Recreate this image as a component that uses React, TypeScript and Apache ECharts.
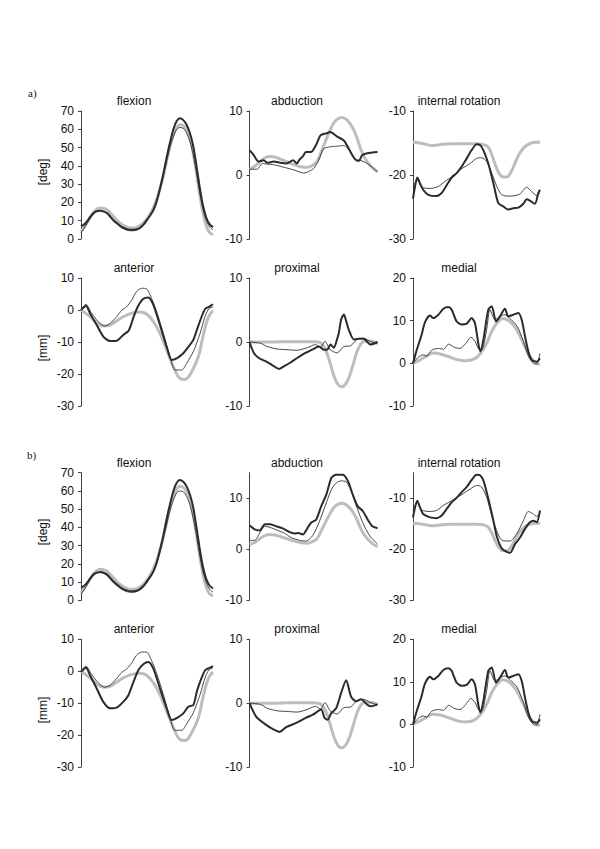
import React, { useEffect, useRef } from 'react';
import * as echarts from 'echarts';

// x = percent of gait cycle, y = value
// ---- normal (light grey) reference curves, shared by a) and b)
const normalFlexion = [[0,4],[2.5,6.5],[5,9.5],[7.5,12.5],[10,15],[12.5,16.5],[15,17],[17.5,16.7],[20,15.7],[22.5,14],[25,12],[27.5,10],[30,8.5],[32.5,7.3],[35,6.5],[37.5,6],[40,6],[42.5,6.5],[45,7.5],[47.5,9],[50,11],[52.5,14],[55,17.5],[57.5,22],[60,28],[62.5,35],[65,43],[67.5,51],[70,57],[72.5,61],[75,62.5],[77.5,62],[80,59.5],[82.5,55],[85,47],[87.5,36],[90,24],[92.5,14],[95,7],[97.5,3.5],[100,2.5]];
const normalAbduction = [[0,0.9],[5,1.5],[10,2.4],[15,2.9],[20,2.8],[25,2.4],[30,2.0],[35,1.6],[40,1.3],[45,1.2],[50,1.6],[53,2.2],[56,3.6],[60,5.6],[63,7.0],[66,8.2],[69,8.8],[72,9.0],[75,8.8],[78,8.2],[81,7.2],[84,5.8],[87,4.0],[90,2.7],[93,1.8],[96,1.1],[100,0.5]];
const normalRotation = [[0,-14.9],[5,-15],[10,-15.2],[15,-15.4],[20,-15.3],[30,-15.1],[40,-15.1],[50,-15.1],[55,-15.2],[59,-15.6],[62,-16.8],[65,-18.5],[68,-19.8],[71,-20.3],[74,-20.3],[77,-19.6],[80,-18.3],[84,-16.6],[88,-15.6],[92,-15.1],[96,-14.9],[100,-14.9]];
const normalAnterior = [[0,0],[1.8,-0.5],[6.8,-2.1],[11.9,-4],[16.9,-5],[22,-4.7],[27,-3.4],[32,-2.1],[38.4,-1],[44.7,-0.6],[49.7,-1.25],[54.8,-3.6],[59.8,-7.3],[64.9,-12.5],[70,-17.7],[75,-21.4],[78.8,-21.7],[83.8,-19.3],[88.9,-14.6],[92,-9],[95,-4],[97.5,-1.5],[100,-0.3]];
const normalProximal = [[0,0],[10,0],[20,0],[30,0.05],[40,0.05],[50,0.05],[54,0],[57,-0.4],[60,-1.5],[63,-3.3],[66,-5.3],[69,-6.6],[72,-7.0],[75,-6.6],[78,-5.4],[81,-3.5],[84,-1.5],[87,-0.3],[90,0.1],[95,0.1],[100,-0.2]];
const normalMedial = [[0,0],[5.5,0.8],[10.8,1.7],[16,2.4],[21.3,2.2],[27.8,1.6],[34.4,0.9],[41,0.6],[47.5,0.9],[52.8,2.2],[58,4.7],[62,7.5],[66,9.4],[71,10.5],[76.4,9.8],[81.6,7.9],[86.9,4.7],[92,1.6],[97.4,0],[100,-0.2]];

// ---- a) thick (dark) and thin curves
const flexionAThick = [[0,7],[2.5,8],[5,10],[7.5,12.5],[10,14.5],[12.5,15.3],[15,15.5],[17.5,15],[20,14],[22.5,12],[25,10],[27.5,8.5],[30,7],[32.5,6],[35,5.3],[37.5,5],[40,5],[42.5,5.3],[45,6.3],[47.5,8],[50,10.5],[52.5,13],[55,16],[57.5,21],[60,28],[62.5,36],[65,45],[67.5,53],[70,60],[72.5,64.5],[75,66],[77.5,65],[80,62.5],[82.5,58],[85,51],[87.5,40],[90,28],[92.5,18],[95,11.5],[97.5,8],[100,6.5]];
const flexionAThin = [[0,3.5],[2.5,6],[5,9],[7.5,12],[10,14],[12.5,15.3],[15,15.5],[17.5,15],[20,13.5],[22.5,11.5],[25,9.5],[27.5,8],[30,6.5],[32.5,5.5],[35,4.8],[37.5,4.5],[40,4.5],[42.5,5],[45,6],[47.5,7.5],[50,10],[52.5,13],[55,16.5],[57.5,21.5],[60,28],[62.5,35],[65,43],[67.5,50.5],[70,56],[72.5,60],[75,61],[77.5,60.5],[80,58],[82.5,53.5],[85,46],[87.5,36],[90,25],[92.5,16],[95,10],[97.5,6.5],[100,5]];
const abductionAThick = [[0,3.9],[3,3.2],[7,2.1],[11,2.3],[14,1.9],[19,2.1],[24,1.9],[29,1.8],[34,2.3],[37,1.8],[39,2.4],[42,3.0],[44,3.6],[48,3.6],[52,4.7],[55.5,6.2],[60,6.5],[63,6.7],[68.5,6.0],[73.7,5.4],[77.6,4.1],[80,3.2],[82.8,2.4],[85.4,2.2],[88,3.1],[92,3.4],[100,3.6]];
const abductionAThin = [[0,0.9],[6,0.9],[10,1.8],[13.8,1.7],[19,1.6],[27,1.2],[34.6,0.8],[42.4,0.3],[50,1.0],[54,2.3],[58,4.1],[63,4.4],[68.5,4.5],[73.7,4.6],[79,3.6],[82.8,2.4],[86.7,2.3],[92,1.8],[96,1.2],[100,0.5]];
const rotationAThick = [[0,-23.7],[1.6,-21.8],[3.4,-20.4],[5.5,-21.3],[8,-22.3],[12,-23.1],[18.6,-23.3],[22.6,-22.8],[26.5,-21.6],[30.4,-20.4],[34.4,-19.7],[38.3,-18.7],[42.3,-17.4],[46.2,-16.1],[50.1,-15.2],[52.8,-15.3],[55.4,-16.1],[59.3,-18.2],[63.3,-21.3],[67.2,-24.4],[71.1,-24.9],[75,-25.4],[79,-25.2],[83,-25.1],[86.9,-24.5],[89.5,-23.8],[92,-24],[96,-24.5],[98.7,-22.8],[100,-22.3]];
const rotationAThin = [[0,-21.8],[3.4,-20.8],[6.8,-21.9],[13.4,-22.1],[20,-21.8],[25.2,-21],[30.4,-20.3],[37,-19.2],[45,-18.2],[50,-17.4],[54,-17.3],[58,-17.9],[62,-19.7],[66,-21.8],[70,-23.1],[76.4,-23.3],[84,-23],[89.5,-21.9],[93.4,-22.6],[97.4,-23.2],[100,-22.8]];
const anteriorAThick = [[0,0],[3.8,1.25],[6.8,-1],[11.9,-4.7],[16.9,-8.3],[22,-9.7],[27,-9.6],[32,-7.8],[36,-6.5],[38,-4.5],[40,-2],[43,1],[47,3.4],[51,3.9],[54.8,1.6],[59.8,-4.7],[64.9,-11.5],[68.7,-15.6],[72.5,-15.1],[77.5,-13.5],[81.3,-11.5],[85,-9.4],[88,-6],[91,-2.5],[94,0.3],[97,1],[100,1.8]];
const anteriorAThin = [[0,0.2],[3.8,1.8],[8,-1],[13,-3.6],[18,-5],[22,-4.2],[27,-2.1],[31,0],[34.6,1],[38.4,3.1],[42,5.7],[46,6.8],[49.7,6.6],[53.5,3.6],[57.3,-0.5],[62.4,-7.3],[67.4,-14.6],[71.2,-18.75],[76.3,-18.75],[80,-16.7],[85.1,-13],[90.2,-7.3],[94,-2],[97,0.5],[100,1]];
const proximalAThick = [[0,0],[3.4,-1.7],[7.3,-2.5],[12.5,-3],[17.7,-3.6],[22.9,-4.2],[26.8,-3.8],[32,-3.2],[37.2,-2.5],[43.75,-1.7],[49,-1.2],[54.2,-0.7],[58,-1.2],[60.7,-1.2],[63.3,-0.4],[65.9,-0.9],[68.5,0.5],[69.8,1.4],[71.6,3.5],[73.7,4.3],[75.5,3.3],[77.6,1.9],[81.5,0.4],[85.4,0.5],[89.3,0.5],[94.5,-0.4],[100,0]];
const proximalAThin = [[0,0],[8.6,-0.2],[13.8,-0.7],[21.6,-1.1],[29.4,-1.2],[37.2,-1.3],[45,-0.9],[51.5,-0.4],[55.5,-0.8],[59,0.1],[63,-1.2],[68.5,-1.7],[73.7,-0.7],[79,-0.6],[84,0.4],[89,0.6],[94.5,0.1],[100,-0.3]];
const medialAThick = [[0,0],[2.9,3.1],[6.8,6.7],[9.4,9.6],[13.4,11.2],[16,10.6],[20,11.4],[23.9,12.8],[27.8,13.2],[30.4,12.6],[34.4,9.8],[38.3,9.1],[42.3,9.3],[46.2,10.6],[48.8,9.4],[51.4,4.7],[53,2.8],[55.4,5.5],[59.3,12.6],[62,13.4],[65.4,9.8],[68.5,11],[72.4,12.8],[75,11],[79,11.4],[83,11.8],[85.6,10.2],[88.2,6.3],[90.8,2.8],[93.4,0.8],[97.4,0.4],[100,1.2]];
const medialAThin = [[0,0],[4,1.4],[8,2],[10.8,1.7],[14.7,3.1],[20,3.5],[24,3.3],[28,4.5],[33,3.7],[37,3.5],[41,4.5],[45.7,6.1],[49,5.1],[51.4,3.5],[54,3.1],[58,7.9],[60.6,12.6],[64.6,10.2],[68.5,11],[72.4,11.4],[76,10.6],[82,8.7],[87,5.1],[91,1.6],[94.8,0],[97.4,-0.2],[100,2.4]];

// ---- b) thick (dark) and thin curves
const flexionBThick = [[0,7],[2.5,8],[5,10],[7.5,12.5],[10,14.5],[12.5,15.3],[15,15.5],[17.5,15],[20,14],[22.5,12],[25,10],[27.5,8.5],[30,7],[32.5,6],[35,5.3],[37.5,5],[40,5],[42.5,5.3],[45,6.3],[47.5,8],[50,10.5],[52.5,13],[55,16],[57.5,21],[60,28],[62.5,36],[65,45],[67.5,53],[70,60],[72.5,64.5],[75,66],[77.5,65],[80,62.5],[82.5,58],[85,51],[87.5,40],[90,28],[92.5,18],[95,11.5],[97.5,8],[100,6.5]];
const flexionBThin = [[0,3.5],[2.5,6],[5,9],[7.5,12],[10,14],[12.5,15],[15,15.2],[17.5,14.7],[20,13.3],[22.5,11.3],[25,9.3],[27.5,7.8],[30,6.4],[32.5,5.4],[35,4.7],[37.5,4.4],[40,4.4],[42.5,4.9],[45,5.9],[47.5,7.4],[50,9.8],[52.5,12.7],[55,16.2],[57.5,21],[60,27.5],[62.5,34.5],[65,42],[67.5,49.5],[70,55],[72.5,59],[75,60],[77.5,59.5],[80,57],[82.5,52.5],[85,45],[87.5,35.5],[90,24.5],[92.5,15.5],[95,9.5],[97.5,6],[100,4.5]];
const abductionBThick = [[0,4.7],[4,3.9],[8,3.7],[12,4.9],[15.6,4.9],[21,4.5],[26,4.1],[31,3.4],[35,3.1],[38,3.2],[41.7,2.9],[44,3.6],[48,5.2],[52,5.8],[56,8.4],[60,10.7],[64,14],[67.7,14.6],[73,14.6],[77,13.3],[80.7,10.7],[84.6,8.4],[88.5,7.5],[92.4,5.8],[96,4.5],[100,4.1]];
const abductionBThin = [[0,1.75],[4,1.75],[8,3.2],[12,4.5],[17,4.2],[22,3.7],[27,3.2],[32.5,2.3],[39,1.75],[44,1.6],[49.5,2.7],[54.7,5.5],[60,9.1],[64,11.7],[67.7,13],[71.6,13.4],[75.5,13.2],[79,11.7],[83,8.8],[88.5,5.2],[94,2.6],[100,1]];
const rotationBThick = [[0,-13.8],[1.6,-11.8],[3.4,-10.5],[5.5,-11.8],[8,-13.1],[13.4,-13.75],[18.6,-13.9],[22.6,-13.4],[26.5,-12.1],[30.4,-10.8],[34.4,-9.9],[38.3,-8.8],[42.3,-7.8],[46.2,-6.4],[50.1,-5.4],[52.8,-5.5],[55.4,-6.5],[59.3,-10.1],[63.3,-14.4],[65.9,-17.4],[69.8,-19.8],[73.8,-20.5],[76.4,-20.7],[80.3,-19],[84.3,-17.7],[88.2,-16],[92.1,-14.7],[94.8,-14.4],[97.4,-14.7],[100,-12.4]];
const rotationBThin = [[0,-12.4],[3.4,-10.8],[6.8,-12.3],[13.4,-12.6],[18.6,-12.4],[23.9,-11.4],[30.4,-10.5],[37,-9.5],[45,-8.2],[50.1,-7.5],[54,-7.8],[58,-9.8],[62,-13.4],[65.9,-16.4],[69.8,-18.2],[76.4,-18.4],[81.6,-17],[86.9,-14.4],[90.8,-12.6],[94.8,-13.1],[97.4,-13.6],[100,-12.8]];
const anteriorBThick = [[0,-0.2],[3.8,1.1],[6.8,-1.2],[11.9,-5.4],[16.9,-9.6],[22,-11.6],[27,-11.4],[32,-9.6],[35.9,-7.5],[39.6,-3.5],[43.4,0.3],[47.2,2.2],[51,2.9],[54.8,0.8],[59.8,-5.4],[64.9,-11.6],[68.7,-15.3],[72.5,-14.7],[77.5,-13.2],[81.3,-11.1],[85.1,-10.6],[88,-6],[91,-2.5],[94,0.3],[97,1],[100,1.6]];
const anteriorBThin = [[0,0.2],[3.8,1.6],[8,-1],[13,-3.6],[18,-5],[22,-4.4],[27,-2.3],[31,-0.3],[34.6,0.7],[38.4,2.6],[42,5],[46,6],[49.7,6],[53.5,3.3],[57.3,-0.7],[62.4,-7.3],[67.4,-14.6],[71.2,-18.5],[76.3,-18.5],[80,-16.5],[85.1,-13],[90.2,-7.3],[94,-2],[97,0.5],[100,1]];
const proximalBThick = [[0,0],[5.2,-2.1],[13,-3.4],[19.5,-4.2],[23.4,-4.5],[28.6,-3.75],[36.5,-3.1],[44,-2.3],[49.5,-1.8],[56,-1.0],[58.6,-2.3],[61,-2.6],[63.8,-1.6],[67.7,-0.8],[71.6,1.6],[75.5,3.6],[79.4,1.0],[83.3,0.3],[87,0.6],[92.4,-0.3],[95,-0.5],[100,-0.2]];
const proximalBThin = [[0,0],[8.6,-0.2],[13.8,-0.8],[21.6,-1.2],[29.4,-1.3],[37.2,-1.4],[45,-1.0],[51.5,-0.5],[55.5,-0.9],[59,0.1],[63,-1.2],[68.5,-1.7],[73.7,-0.7],[79,-0.6],[84,0.4],[89,0.6],[94.5,0.1],[100,-0.3]];
const medialBThick = medialAThick;
const medialBThin = medialAThin;

const panelTitles = ['flexion', 'abduction', 'internal rotation', 'anterior', 'proximal', 'medial'];
const unitLabels = ['[deg]', '[mm]'];

const COL_LEFT = [81, 249.5, 413];
const COL_WIDTH = [132, 128, 127];
const ROW_TOP = [111, 278, 472.7, 639.3];
const ROW_H = [128, 128, 127.6, 127.7];
const TITLE_X = [134, 297, 459];
const TITLE_Y = [101, 268, 462.5, 629];

type Panel = { row: number; col: number; min: number; max: number; ticks: number[]; normal: number[][]; thin: number[][]; thick: number[][] };

const panels: Panel[] = [
  { row: 0, col: 0, min: 0, max: 70, ticks: [0, 10, 20, 30, 40, 50, 60, 70], normal: normalFlexion, thin: flexionAThin, thick: flexionAThick },
  { row: 0, col: 1, min: -10, max: 10, ticks: [-10, 0, 10], normal: normalAbduction, thin: abductionAThin, thick: abductionAThick },
  { row: 0, col: 2, min: -30, max: -10, ticks: [-30, -20, -10], normal: normalRotation, thin: rotationAThin, thick: rotationAThick },
  { row: 1, col: 0, min: -30, max: 10, ticks: [-30, -20, -10, 0, 10], normal: normalAnterior, thin: anteriorAThin, thick: anteriorAThick },
  { row: 1, col: 1, min: -10, max: 10, ticks: [-10, 0, 10], normal: normalProximal, thin: proximalAThin, thick: proximalAThick },
  { row: 1, col: 2, min: -10, max: 20, ticks: [-10, 0, 10, 20], normal: normalMedial, thin: medialAThin, thick: medialAThick },
  { row: 2, col: 0, min: 0, max: 70, ticks: [0, 10, 20, 30, 40, 50, 60, 70], normal: normalFlexion, thin: flexionBThin, thick: flexionBThick },
  { row: 2, col: 1, min: -10, max: 15, ticks: [-10, 0, 10], normal: normalAbduction, thin: abductionBThin, thick: abductionBThick },
  { row: 2, col: 2, min: -30, max: -5, ticks: [-30, -20, -10], normal: normalRotation, thin: rotationBThin, thick: rotationBThick },
  { row: 3, col: 0, min: -30, max: 10, ticks: [-30, -20, -10, 0, 10], normal: normalAnterior, thin: anteriorBThin, thick: anteriorBThick },
  { row: 3, col: 1, min: -10, max: 10, ticks: [-10, 0, 10], normal: normalProximal, thin: proximalBThin, thick: proximalBThick },
  { row: 3, col: 2, min: -10, max: 20, ticks: [-10, 0, 10, 20], normal: normalMedial, thin: medialBThin, thick: medialBThick },
];

const FONT = 'Liberation Sans, Arial, sans-serif';

export default function App() {
  const ref = useRef<HTMLDivElement>(null);
  useEffect(() => {
    if (!ref.current) return;
    const chart = echarts.init(ref.current, undefined, { renderer: 'svg' });
    const grid: any[] = [];
    const xAxis: any[] = [];
    const yAxis: any[] = [];
    const series: any[] = [];
    const graphic: any[] = [];
    panels.forEach((p, i) => {
      grid.push({ left: COL_LEFT[p.col], top: ROW_TOP[p.row], width: COL_WIDTH[p.col], height: ROW_H[p.row], containLabel: false });
      xAxis.push({ type: 'value', gridIndex: i, min: 0, max: 100, show: false });
      const tickSet = p.ticks;
      yAxis.push({
        type: 'value', gridIndex: i, min: p.min, max: p.max, interval: 10,
        axisLine: { show: true, lineStyle: { color: '#404040', width: 1 } },
        axisTick: { show: true, length: 3, inside: false, lineStyle: { color: '#404040' }, customValues: tickSet },
        axisLabel: {
          show: true, margin: 7, fontSize: 12, fontFamily: FONT, color: '#111', customValues: tickSet,
          formatter: (v: number) => (tickSet.indexOf(v) >= 0 ? String(v) : ''),
        },
        splitLine: { show: false },
      });
      series.push({ type: 'line', xAxisIndex: i, yAxisIndex: i, data: p.normal, showSymbol: false, smooth: 0.4, lineStyle: { color: '#bdbdbd', width: 3 }, z: 1 });
      series.push({ type: 'line', xAxisIndex: i, yAxisIndex: i, data: p.thin, showSymbol: false, smooth: 0.25, lineStyle: { color: '#333333', width: 0.9 }, z: 2 });
      series.push({ type: 'line', xAxisIndex: i, yAxisIndex: i, data: p.thick, showSymbol: false, smooth: 0.25, lineStyle: { color: '#2b2b2b', width: 2 }, z: 3 });
      graphic.push({ type: 'text', x: TITLE_X[p.col], y: TITLE_Y[p.row], style: { text: panelTitles[(p.row % 2) * 3 + p.col], font: `12px ${FONT}`, fill: '#111', textAlign: 'center', textVerticalAlign: 'middle' } });
    });
    const unitPos = [[43, 172, 0], [43, 348, 1], [43, 532, 0], [43, 710, 1]];
    unitPos.forEach(([x, y, u]) => {
      graphic.push({ type: 'text', x, y, rotation: Math.PI / 2, style: { text: unitLabels[u], font: `12px ${FONT}`, fill: '#111', textAlign: 'center', textVerticalAlign: 'middle' } });
    });
    graphic.push({ type: 'text', x: 28, y: 93, style: { text: 'a)', font: '11px Liberation Serif, Times New Roman, serif', fill: '#111', textAlign: 'left', textVerticalAlign: 'middle' } });
    graphic.push({ type: 'text', x: 27, y: 455, style: { text: 'b)', font: '11px Liberation Serif, Times New Roman, serif', fill: '#111', textAlign: 'left', textVerticalAlign: 'middle' } });

    chart.setOption({
      animation: false,
      backgroundColor: '#ffffff',
      grid, xAxis, yAxis, series, graphic,
    });
    return () => chart.dispose();
  }, []);
  return <div ref={ref} style={{ position: 'absolute', left: 0, top: 0, width: 600, height: 849, background: '#fff' }} />;
}
